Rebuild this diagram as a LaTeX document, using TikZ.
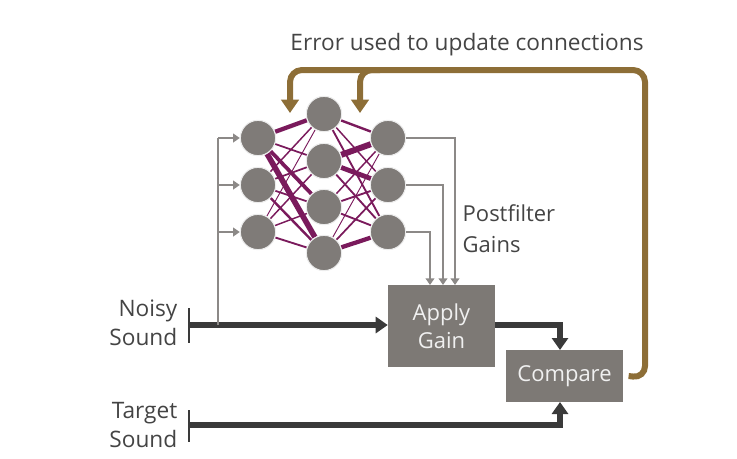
\documentclass[tikz,border=0pt]{standalone}
\usepackage{fontspec}
\setmainfont{Open Sans}
\usetikzlibrary{arrows.meta,backgrounds}
\definecolor{cellgray}{HTML}{7F7B78}
\definecolor{boxgray}{HTML}{7D7975}
\definecolor{wiregray}{HTML}{8C8987}
\definecolor{linkpurple}{HTML}{7A1A5C}
\definecolor{errgold}{HTML}{8D6E37}
\definecolor{sigdark}{HTML}{3A3A3A}
\definecolor{labelgray}{HTML}{444444}
\tikzset{
  neuron/.style={circle,fill=cellgray,draw=white!85!gray,line width=0.8pt,minimum size=26.5pt,inner sep=0pt},
  stagebox/.style={rectangle,fill=boxgray,text=white!88!gray,align=center,inner sep=0pt,font=\fontsize{16.5}{21}\selectfont},
  wire/.style={draw=wiregray,line width=2.1pt,-{Triangle[length=5pt,width=6.5pt]}},
  signal/.style={draw=sigdark,line width=4pt,-{Triangle[length=9pt,width=12pt]}},
  feedback/.style={draw=errgold,line width=4.5pt,rounded corners=9pt,-{Triangle[length=10pt,width=13pt]}},
  sidelabel/.style={text=labelgray,align=right,font=\fontsize{17}{21.5}\selectfont},
}
\begin{document}
\begin{tikzpicture}[x=0.75pt,y=-0.75pt]
    \useasboundingbox (0,0) rectangle (737,458);

    % --- Network ---
    \node[neuron] (l1) at (258,138) {};
    \node[neuron] (l2) at (258,185) {};
    \node[neuron] (l3) at (258,232) {};
    \node[neuron] (m1) at (324,114) {};
    \node[neuron] (m2) at (324,161) {};
    \node[neuron] (m3) at (324,207) {};
    \node[neuron] (m4) at (324,253) {};
    \node[neuron] (r1) at (388,138) {};
    \node[neuron] (r2) at (388,185) {};
    \node[neuron] (r3) at (388,232) {};
    \begin{scope}[on background layer]
      \foreach \a/\b/\w in {l1/m1/3.2, l1/m2/1.3, l1/m3/2.8, l1/m4/4.2,
                            l2/m1/1.1, l2/m2/1.3, l2/m3/1.3, l2/m4/1.8,
                            l3/m1/0.7, l3/m2/1.1, l3/m3/1.1, l3/m4/1.4,
                            m1/r1/1.8, m1/r2/1.1, m1/r3/1.4,
                            m2/r1/4.5, m2/r2/3.6, m2/r3/1.4,
                            m3/r1/1.1, m3/r2/1.4, m3/r3/1.4,
                            m4/r1/0.7, m4/r2/1.3, m4/r3/3.2}
        \draw[linkpurple,line width=\w pt] (\a) -- (\b);
    \end{scope}

    % --- Blocks ---
    \node[stagebox,minimum width=80.25pt,minimum height=61.5pt] (apply) at (441.5,326) {Apply\\Gain};
    \node[stagebox,minimum width=87.75pt,minimum height=39pt] (compare) at (564.5,376) {Compare};

    % --- Inputs ---
    \node[sidelabel,anchor=east] (noisy) at (182,323) {Noisy\\Sound};
    \node[sidelabel,anchor=east] (target) at (182,425) {Target\\Sound};
    \coordinate (ns) at (189,325);
    \coordinate (ts) at (189,425);
    \coordinate (tap) at (218,325);
    \draw[sigdark,line width=1.5pt] (189,308) -- (189,343);
    \draw[sigdark,line width=1.5pt] (189,410) -- (189,442);
    \draw[signal] (ns) -- (ns -| apply.west);
    \draw[signal] (ts) -| (560,402);
    \draw[signal] (apply.east |- 0,325) -| (560,350);

    % --- Network in/out wires ---
    \draw[wiregray,line width=2.1pt] (tap) -- (218,138);
    \draw[wire] (218,138) -- (l1);
    \draw[wire] (218,185) -- (l2);
    \draw[wire] (218,232) -- (l3);
    \draw[wire] (r1) -| (455,285);
    \draw[wire] (r2) -| (443,285);
    \draw[wire] (r3) -| (430,285);
    \node[text=labelgray,align=left,anchor=west,font=\fontsize{16.5}{23}\selectfont] (gains) at (458,229) {Postfilter\\Gains};

    % --- Error feedback ---
    \draw[feedback] ([xshift=4pt]compare.east) -- (645,378) -- (645,70) -- (290,70) -- (290,113);
    \draw[feedback] (380,70) -- (360,70) -- (360,113);
    \node[text=labelgray,font=\fontsize{17}{20}\selectfont] (errlabel) at (467,45) {Error used to update connections};
\end{tikzpicture}
\end{document}
